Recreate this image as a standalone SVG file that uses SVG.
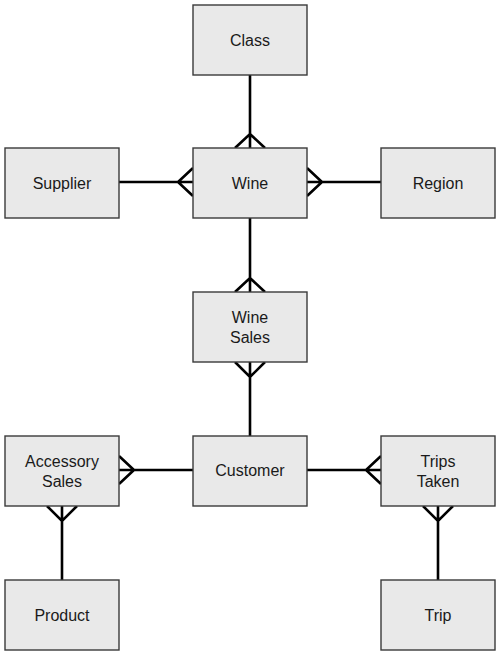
<svg xmlns="http://www.w3.org/2000/svg" width="500" height="652" viewBox="0 0 500 652">
<style>
.box{fill:#e9e9e9;stroke:#3a3a3a;stroke-width:1.4}
.lbl{font-family:"Liberation Sans",Arial,sans-serif;font-size:16px;fill:#1a1a1a;text-anchor:middle}
.c{stroke:#000;stroke-width:2.6;fill:none;stroke-linejoin:miter}
</style>
<rect width="500" height="652" fill="#fff"/>
<g id="connectors">
<path class="c" d="M250,75V148M235,148L250,134L265,148"/>
<path class="c" d="M119,182H193M193,168L178,182L193,196"/>
<path class="c" d="M307,182H381M307,168L322,182L307,196"/>
<path class="c" d="M250,218V292M235,292L250,278L265,292"/>
<path class="c" d="M250,362V436M235,362L250,377L265,362"/>
<path class="c" d="M119,470H193M119,456L134,470L119,484"/>
<path class="c" d="M307,470H381M381,456L366,470L381,484"/>
<path class="c" d="M62,506V580M47,506L62,521L77,506"/>
<path class="c" d="M438,506V580M423,506L438,521L453,506"/>
</g>
<g id="class"><rect class="box" x="193" y="5" width="114" height="70"/><text class="lbl" x="250" y="46">Class</text></g>
<g id="supplier"><rect class="box" x="5" y="148" width="114" height="70"/><text class="lbl" x="62" y="189">Supplier</text></g>
<g id="wine"><rect class="box" x="193" y="148" width="114" height="70"/><text class="lbl" x="250" y="189">Wine</text></g>
<g id="region"><rect class="box" x="381" y="148" width="114" height="70"/><text class="lbl" x="438" y="189">Region</text></g>
<g id="wine-sales"><rect class="box" x="193" y="292" width="114" height="70"/><text class="lbl" x="250" y="323">Wine</text><text class="lbl" x="250" y="343">Sales</text></g>
<g id="accessory-sales"><rect class="box" x="5" y="436" width="114" height="70"/><text class="lbl" x="62" y="467">Accessory</text><text class="lbl" x="62" y="487">Sales</text></g>
<g id="customer"><rect class="box" x="193" y="436" width="114" height="70"/><text class="lbl" x="250" y="476">Customer</text></g>
<g id="trips-taken"><rect class="box" x="381" y="436" width="114" height="70"/><text class="lbl" x="438" y="467">Trips</text><text class="lbl" x="438" y="487">Taken</text></g>
<g id="product"><rect class="box" x="5" y="580" width="114" height="70"/><text class="lbl" x="62" y="621">Product</text></g>
<g id="trip"><rect class="box" x="381" y="580" width="114" height="70"/><text class="lbl" x="438" y="621">Trip</text></g>
</svg>
